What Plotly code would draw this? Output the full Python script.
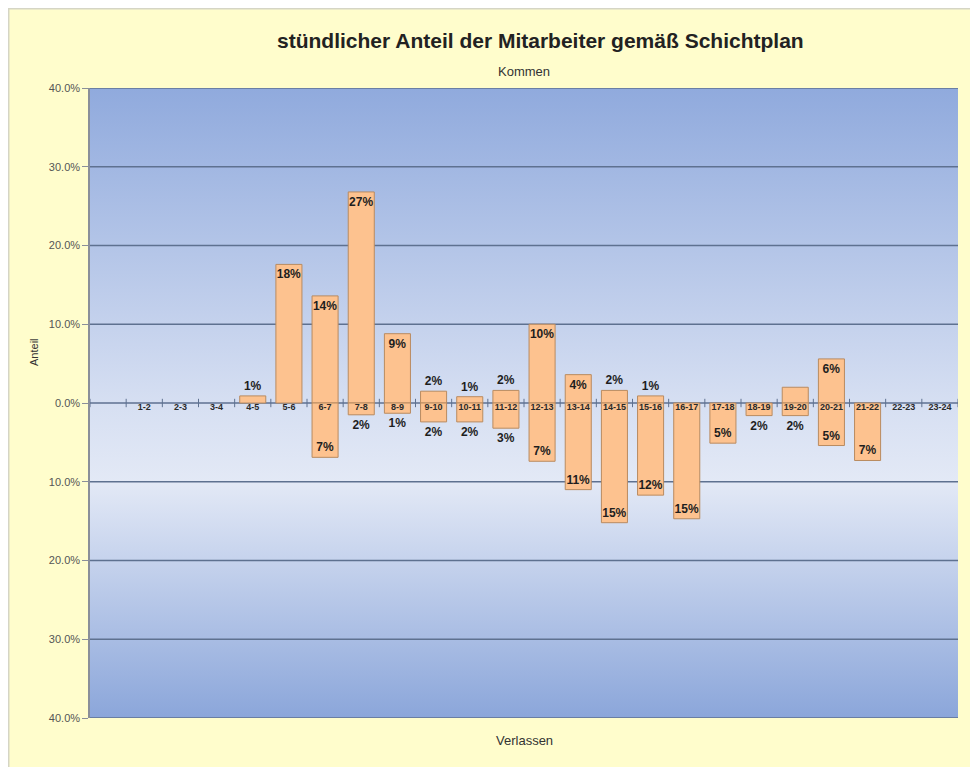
import plotly.graph_objects as go

# ---------------- data ----------------
hours = ["0-1", "1-2", "2-3", "3-4", "4-5", "5-6", "6-7", "7-8", "8-9", "9-10",
         "10-11", "11-12", "12-13", "13-14", "14-15", "15-16", "16-17", "17-18",
         "18-19", "19-20", "20-21", "21-22", "22-23", "23-24"]
kommen = [None, None, None, None, 0.9, 17.6, 13.6, 26.8, 8.8, 1.5,
          0.8, 1.6, 10.0, 3.6, 1.6, 0.9, None, None,
          None, 2.0, 5.6, None, None, None]
verlassen = [None, None, None, None, None, None, -6.9, -1.5, -1.3, -2.4,
             -2.4, -3.2, -7.4, -11.0, -15.2, -11.7, -14.7, -5.1,
             -1.6, -1.6, -5.4, -7.3, None, None]
hidden_kommen_labels = ["19-20"]
y_ticks = [-40, -30, -20, -10, 0, 10, 20, 30, 40]
y_ticktext = [f"{abs(v):.1f}%" for v in y_ticks]

title = "stündlicher Anteil der Mitarbeiter gemäß Schichtplan"

FONT = "Liberation Sans, Arial, sans-serif"
xs = list(range(len(hours)))
xmin, xmax = -0.5, len(hours) - 0.5
GRID = "#5E7190"


def lab(v, h, hidden=()):
    if v is None or h in hidden:
        return ""
    return f"{round(abs(v))}%"


def pos(v):
    return "inside" if v is not None and abs(v) >= 3.5 else "outside"


fig = go.Figure()

# ---- base subplot: gradient background + gridlines ----
fig.add_trace(go.Scatter(
    x=[xmin, xmax, xmax, xmin, xmin], y=[-40, -40, 40, 40, -40],
    fill="toself", mode="none",
    fillgradient=dict(type="vertical", start=-40, stop=40,
                      colorscale=[[0, "#8BA6DA"], [0.375, "#E3E9F6"],
                                  [0.5, "#D6DFF2"], [1, "#90AADD"]]),
    hoverinfo="skip", showlegend=False))

gx, gy = [], []
for t in y_ticks:
    gx += [xmin, xmax, None]
    gy += [t, t, None]
fig.add_trace(go.Scatter(x=gx, y=gy, mode="lines",
                         line=dict(color=GRID, width=1.5),
                         hoverinfo="skip", showlegend=False))

# ---- overlay subplot: bars and labels ----
fig.add_trace(go.Scatter(x=[i - 0.5 for i in range(len(hours) + 1)],
                         y=[0] * (len(hours) + 1), mode="markers",
                         xaxis="x2", yaxis="y2",
                         marker=dict(symbol="line-ns-open", size=6, color=GRID,
                                     line=dict(color=GRID, width=1)),
                         hoverinfo="skip", showlegend=False))

bar_style = dict(color="#FDC28F", line=dict(color="#B98B60", width=1))
txtfont = dict(family=FONT, size=12, color="#1E1E1E", weight="bold")

fig.add_trace(go.Bar(
    x=xs, y=kommen, width=0.72, marker=bar_style, name="Kommen",
    xaxis="x2", yaxis="y2",
    text=[lab(v, h, hidden_kommen_labels) for v, h in zip(kommen, hours)],
    textposition=[pos(v) for v in kommen], insidetextanchor="end",
    textangle=0, constraintext="none", textfont=txtfont,
    cliponaxis=False, showlegend=False))
fig.add_trace(go.Bar(
    x=xs, y=verlassen, width=0.72, marker=bar_style, name="Verlassen",
    xaxis="x2", yaxis="y2",
    text=[lab(v, h) for v, h in zip(verlassen, hours)],
    textposition=[pos(v) for v in verlassen], insidetextanchor="end",
    textangle=0, constraintext="none", textfont=txtfont,
    cliponaxis=False, showlegend=False))

fig.add_trace(go.Scatter(
    x=xs[1:], y=[0] * (len(hours) - 1), mode="text",
    xaxis="x2", yaxis="y2",
    text=hours[1:], textposition="bottom center",
    textfont=dict(family=FONT, size=9, color="#2A2A2A", weight="bold"),
    hoverinfo="skip", showlegend=False, cliponaxis=False))

fig.update_layout(
    width=978, height=767,
    margin=dict(l=82, r=28, t=80, b=57),
    paper_bgcolor="#FFFDCC", plot_bgcolor="#D6DFF2",
    barmode="relative",
    font=dict(family=FONT, color="#333333"),
    xaxis=dict(range=[xmin, xmax], showticklabels=False, showgrid=False,
               zeroline=False, showline=False, ticks=""),
    yaxis=dict(range=[-40, 40], tickvals=y_ticks, ticktext=y_ticktext,
               showgrid=False, zeroline=False, showline=True,
               linecolor="#8A8F99", linewidth=1.5, ticks="outside",
               ticklen=6, tickcolor="#8A8F99",
               tickfont=dict(family=FONT, size=11, color="#555555")),
    xaxis2=dict(range=[xmin, xmax], overlaying="x", visible=False),
    yaxis2=dict(range=[-40, 40], overlaying="y", visible=False),
    shapes=[dict(type="rect", xref="paper", yref="paper",
                 x0=-0.0945, x1=1.1, y0=-0.2, y1=1.127,
                 fillcolor="rgba(0,0,0,0)", line=dict(color="#D5D5C5", width=3),
                 layer="below")],
    annotations=[
        dict(text=title, xref="paper", yref="paper", x=0.519, y=1.076,
             xanchor="center", yanchor="middle", showarrow=False,
             font=dict(family=FONT, size=21, color="#222222", weight="bold")),
        dict(text="Kommen", xref="paper", yref="paper", x=0.5, y=1.0254,
             xanchor="center", yanchor="middle", showarrow=False,
             font=dict(family=FONT, size=13, color="#333333")),
        dict(text="Verlassen", xref="paper", yref="paper", x=0.5, y=-0.0365,
             xanchor="center", yanchor="middle", showarrow=False,
             font=dict(family=FONT, size=13, color="#333333")),
        dict(text="Anteil", xref="paper", yref="paper", x=-0.0645, y=0.581,
             xanchor="center", yanchor="middle", textangle=-90,
             showarrow=False, font=dict(family=FONT, size=11, color="#333333")),
    ],
)

fig.write_html("out.html")
